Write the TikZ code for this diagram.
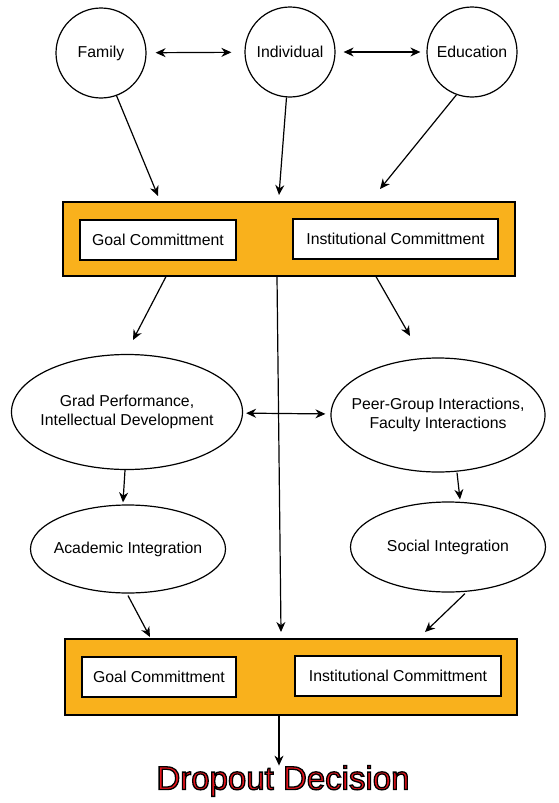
\documentclass[tikz,border=0pt]{standalone}
\usepackage{fontspec}
\setmainfont{Liberation Sans}
\usetikzlibrary{arrows.meta,calc,shapes.geometric}
\definecolor{boxorange}{HTML}{F9B11C}
\definecolor{dropred}{HTML}{E8141C}
\newcommand{\outlinedtext}[1]{\special{pdf:code q 0 0 0 RG 1.3 w 2 Tr}#1\special{pdf:code Q}}
\begin{document}
\begin{tikzpicture}[x=1pt,y=-1pt,
  every node/.style={font=\fontsize{15.8}{19}\selectfont},
  lw/.style={line width=1.2pt},
  circ/.style={draw,lw,circle,minimum size=90pt,inner sep=0pt,fill=white},
  ell/.style={draw,lw,ellipse,inner ysep=0pt,inner xsep=-30pt,align=center,fill=white},
  outer/.style={draw,lw,fill=boxorange,inner sep=0pt},
  inner/.style={draw,lw,fill=white,inner sep=0pt,minimum height=40pt},
  arr/.style={lw,-{Stealth[length=10pt,width=9pt]}},
  dbl/.style={lw,{Stealth[length=10pt,width=9pt]}-{Stealth[length=10pt,width=9pt]}}]
\useasboundingbox (0,0) rectangle (558,803);

% top circles
\node[circ] (fam) at (101,53) {Family};
\node[circ] (ind) at (290,52) {Individual};
\node[circ] (edu) at (472,52) {Education};

\draw[dbl,shorten <=9pt,shorten >=13pt] (fam) -- (ind);
\draw[dbl,shorten <=8pt,shorten >=6pt] (ind) -- (edu);

% top box
\node[outer,minimum width=452pt,minimum height=74pt] (topbox) at (289,239) {};
\node[inner,minimum width=156pt] (goal1) at (158,240) {Goal Committment};
\node[inner,minimum width=205pt] (inst1) at (395.5,239) {Institutional Committment};

\coordinate (t1) at (158,196);
\coordinate (t2) at (279,195);
\coordinate (t3) at (380,189);
\draw[arr] (fam.-70) -- (t1);
\draw[arr] (ind) -- (t2);
\draw[arr] (edu.250) -- (t3);

% middle ellipses
\node[ell,minimum width=231pt,minimum height=115pt] (grad) at (127,412) {Grad Performance,\\Intellectual Development};
\node[ell,minimum width=214pt,minimum height=114pt] (peer) at (438,415) {Peer-Group Interactions,\\Faculty Interactions};
\node[ell,minimum width=195pt,minimum height=88pt] (acad) at (128,549) {Academic Integration};
\node[ell,minimum width=195pt,minimum height=90pt] (soc) at (448,547) {Social Integration};

\coordinate (m1) at (133,340);
\coordinate (m3) at (410,336);
\draw[arr] ($(topbox.south)+(-123,0)$) -- (m1);
\draw[arr] ($(topbox.south)+(87,0)$) -- (m3);

\draw[dbl,shorten <=3pt,shorten >=5pt] (grad) -- (peer);

\draw[arr] ($(grad.south)+(-2,0)$) -- ($(acad.north)+(-5,-2)$);
\draw[arr] ($(peer.south)+(19,0)$) -- ($(soc.north)+(12,-2)$);

% bottom box
\node[outer,minimum width=452pt,minimum height=76pt] (botbox) at (291,677) {};
\node[inner,minimum width=154pt] (goal2) at (159,677) {Goal Committment};
\node[inner,minimum width=206pt] (inst2) at (398,676) {Institutional Committment};

\coordinate (b1) at (150,637);
\coordinate (b2) at (281,632);
\coordinate (b3) at (425,632);
\draw[arr] ($(acad.south)+(0,2)$) -- (b1);
\draw[arr] ($(topbox.south)+(-12,0)$) -- (b2);
\draw[arr] ($(soc.south)+(17,1)$) -- (b3);

% dropout decision
\draw[arr] (botbox.south -| b2) ++(-2,0) coordinate (bs) -- ($(bs)+(0,50)$) coordinate (de);
\node[font=\fontsize{33}{36}\selectfont,text=dropred] (drop) at (283,781) {\outlinedtext{Dropout Decision}};
\end{tikzpicture}
\end{document}
